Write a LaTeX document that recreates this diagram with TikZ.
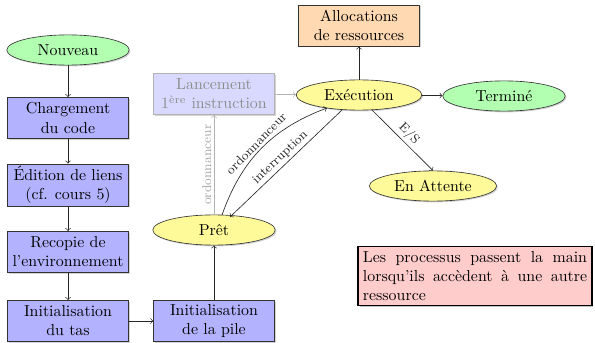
\documentclass[tikz,border=0pt]{standalone}
\usetikzlibrary{shapes.geometric,shadows}
\begin{document}
\begin{tikzpicture}[x=0.629pt,y=-0.629pt,
  >=to,
  shade/.style={drop shadow={shadow xshift=0.8pt,shadow yshift=-0.8pt,opacity=0.35}},
  stage/.style={draw=black!80,fill=blue!30,align=center,minimum width=76pt,minimum height=26pt,inner sep=1.5pt,shade},
  etat/.style={ellipse,draw=black!80,fill=yellow!40,minimum width=77pt,minimum height=19pt,inner sep=0pt,shade},
  borne/.style={etat,fill=green!30},
  flow/.style={->,black!85},
  pale/.style={->,black!30},
  lbl/.style={font=\footnotesize,inner sep=1.5pt}]
\useasboundingbox (0,0) rectangle (595,343);

% left column: loading steps
\node[borne] (nouveau) at (68,50) {Nouveau};
\node[stage] (charg) at (68,118) {Chargement\\du code};
\node[stage] (edit) at (68,185) {Édition de liens\\(cf. cours 5)};
\node[stage] (recop) at (68,252) {Recopie de\\l'environnement};
\node[stage] (tas) at (68,321) {Initialisation\\du tas};
\node[stage] (pile) at (214,321) {Initialisation\\de la pile};

% states
\node[etat] (pret) at (214,230) {Prêt};
\node[stage,fill=blue!15,draw=black!30,text=black!45] (lance) at (214,94) {Lancement\\1\textsuperscript{ère} instruction};
\node[etat,minimum width=79pt] (exec) at (359,95) {Exécution};
\node[stage,fill=orange!30] (alloc) at (359,25.5) {Allocations\\de ressources};
\node[borne] (fin) at (504,96) {Terminé};
\node[etat,minimum width=80pt] (attente) at (433,186) {En Attente};

% note
\node[draw=black,line width=1pt,fill=red!20,text width=141pt,align=justify,inner sep=3pt,
      drop shadow={shadow xshift=1pt,shadow yshift=-1pt,opacity=0.5}] (note) at (475,276)
  {Les processus passent la main lorsqu'ils accèdent à une autre ressource};

% attachment points between Prêt and Exécution
\coordinate (pretA) at ([shift={(8,-15)}]pret.center);
\coordinate (pretB) at ([shift={(16,-13)}]pret.center);
\coordinate (execA) at ([shift={(-32,13)}]exec.center);
\coordinate (execB) at ([shift={(-17,15)}]exec.center);
\coordinate (execC) at ([shift={(13,15)}]exec.center);

% connectors
\draw[flow] (nouveau) -- (charg);
\draw[flow] (charg) -- (edit);
\draw[flow] (edit) -- (recop);
\draw[flow] (recop) -- (tas);
\draw[flow] (tas) -- (pile);
\draw[flow] (pile) -- (pret);
\draw[pale] (pret) -- node[lbl,text=black!35,above,sloped] {ordonnanceur} (lance);
\draw[pale] (lance) -- (exec);
\draw[flow] (pretA) to[bend left=25] node[lbl,above,sloped] {ordonnanceur} (execA);
\draw[flow] (execB) -- node[lbl,above,sloped] {interruption} (pretB);
\draw[flow] (exec) -- (alloc);
\draw[flow] (exec) -- (fin);
\draw[flow] (execC) -- node[lbl,above,sloped] {E/S} (attente.north);
\end{tikzpicture}
\end{document}
